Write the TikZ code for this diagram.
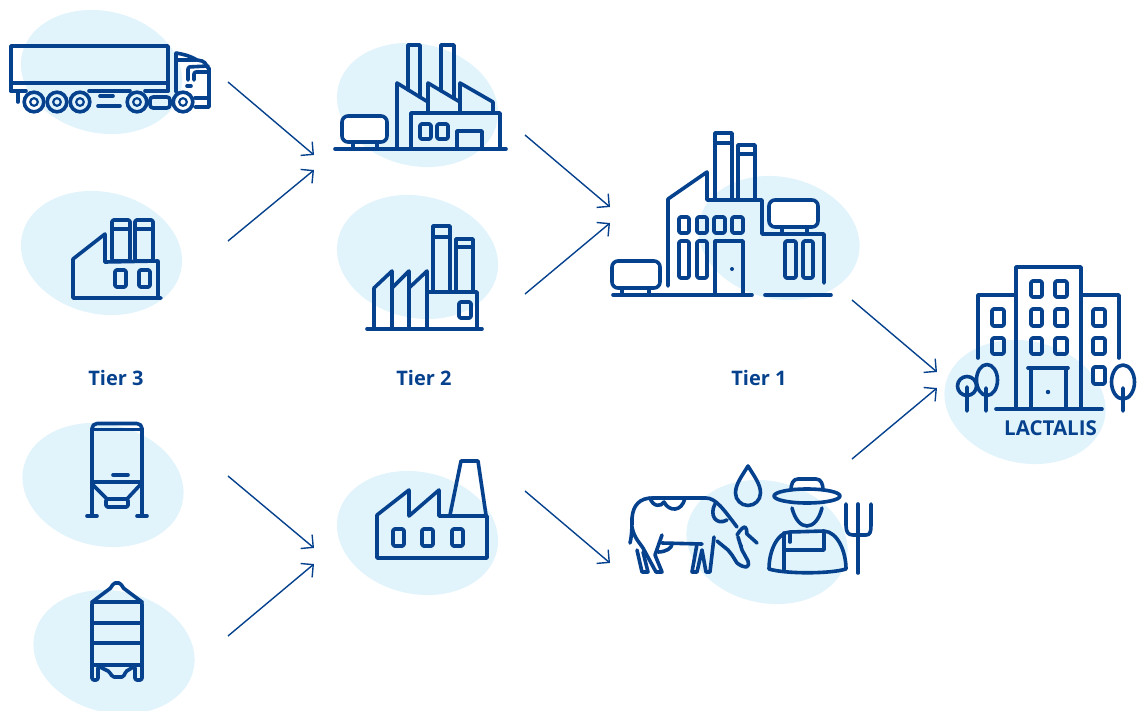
\documentclass[tikz,border=0pt]{standalone}
\usepackage{fontspec}
\setmainfont{Open Sans}
\usetikzlibrary{arrows.meta,shapes.geometric}
\definecolor{ink}{HTML}{06418E}
\definecolor{blobc}{HTML}{E1F3FB}
\tikzset{
  blob/.style={ellipse,fill=blobc,draw=none,minimum width=162.8pt,minimum height=121.8pt,inner sep=0pt,rotate=-12.6},
  icon/.style={draw=ink,line width=3.6pt,line join=round,line cap=round},
  win/.style={icon,rounded corners=1.5pt},
  tank/.style={icon,fill=white,rounded corners=6pt},
  conn/.style={draw=ink,line width=1.4pt,-{Straight Barb[length=9pt,width=18pt,line width=1.4pt]}},
  tier/.style={text=ink,font=\fontsize{20}{22}\selectfont\bfseries,inner sep=0pt},
}
\newcommand{\coww}[4]{\draw[win] (#1,#2) rectangle (#3,#4);}
\begin{document}
\begin{tikzpicture}[x=1pt,y=-1pt]
\useasboundingbox (0,0) rectangle (1144,710);
% blobs
\node[blob] (b1) at (101.5,72) {};
\node[blob] (b2) at (101.5,253) {};
\node[blob] (b3) at (103,485) {};
\node[blob] (b4) at (114,652) {};
\node[blob] (b5) at (417.5,105) {};
\node[blob] (b6) at (417.5,257) {};
\node[blob] (b7) at (417.5,533) {};
\node[blob] (b8) at (779,238) {};
\node[blob] (b9) at (767,542) {};
\node[blob] (b10) at (1025,402) {};
% labels
\node[tier] (t3) at (116,378) {Tier 3};
\node[tier] (t2) at (424,378) {Tier 2};
\node[tier] (t1) at (759,378) {Tier 1};
\node[tier,font=\fontsize{20.5}{22}\selectfont\bfseries] (lac) at (1050.5,428) {LACTALIS};
% connector ends
\coordinate (a1s) at (228,82);  \coordinate (a1e) at (314,155);
\coordinate (a2s) at (228,241); \coordinate (a2e) at (314,170);
\coordinate (a3s) at (525,135); \coordinate (a3e) at (610,207);
\coordinate (a4s) at (525,294); \coordinate (a4e) at (610,223);
\coordinate (a5s) at (852,300); \coordinate (a5e) at (937,372);
\coordinate (a6s) at (852,459); \coordinate (a6e) at (937,388);
\coordinate (a7s) at (228,476); \coordinate (a7e) at (314,548);
\coordinate (a8s) at (228,636); \coordinate (a8e) at (314,564);
\coordinate (a9s) at (525,491); \coordinate (a9e) at (610,563);
\foreach \n in {1,...,9} {\draw[conn] (a\n s) -- (a\n e);}
% truck
\draw[icon] (11,91) -- (11,46) -- (168,46) -- (168,91);
\draw[icon] (11,83) -- (168,83);
\draw[icon] (11,91) -- (26,91) (18,91) -- (18,102);
\draw[icon] (89,91) -- (130,91) (145,91) -- (168,91) (100,96) -- (113,96) (98,106) -- (120,106);
\foreach \x in {34,57,80,137,183} {
  \draw[icon] (\x,102) circle (9.8);
  \draw[icon,line width=2.2pt] (\x,102) circle (3.8);
}
\draw[win,rounded corners=3pt] (150,97) rectangle (170,108);
\draw[icon] (176,92) -- (176,53) to[out=-10,in=150] (197,60) -- (202,61) to[out=0,in=-90] (209,68) -- (209,107) -- (195,107);
\draw[icon] (176,60) -- (196,60) (195,98) -- (209,98) (187,86) -- (191,86);
\draw[icon,rounded corners=2pt] (188,80) -- (188,67) -- (208,66);
\draw[icon,rounded corners=2pt] (194,80) -- (194,72) -- (208,72);
% factory tier 3
\draw[icon] (105,262) -- (105,234) -- (73,259) -- (73,298) -- (161,298);
\draw[icon] (105,262) -- (158,261) -- (158,298);
\coww{112}{220}{130}{261}
\coww{135}{220}{153}{261}
\draw[icon] (112,229) -- (130,229) (135,229) -- (153,229);
\coww{115}{270}{126}{287}
\coww{139}{270}{150}{287}
% silo 1
\draw[icon,rounded corners=5pt] (92,516) -- (92,423.5) -- (142,423.5) -- (142,516);
\draw[icon] (92,429.5) -- (142,429.5) (92,482) -- (142,482) (113,475) -- (128,475);
\draw[icon] (87,516) -- (97,516) (137,516) -- (147,516);
\draw[icon] (93,485) -- (107,499) -- (127,499) -- (140,485);
\draw[win] (106,499) rectangle (128,507);
% silo 2
\draw[icon,rounded corners=2pt] (92,680) -- (92,602) -- (112,587) -- (113,583) -- (121,583) -- (122,587) -- (142,602) -- (142,680) -- (135,680) -- (135,666) -- (125,672) -- (124,677) -- (112,677) -- (110,672) -- (98,666) -- (98,680) -- cycle;
\draw[icon] (92,602) -- (142,602) (92,623) -- (142,623) (92,643) -- (142,643) (92,665) -- (142,665);
% factory tier 2 upper
\draw[icon] (335,149) -- (506,149);
\draw[tank] (342,116) rectangle (387,142);
\draw[icon] (353,142) -- (353,149) (377,142) -- (377,149);
\draw[icon] (397,149) -- (397,83) -- (428,102) (428,113) -- (428,83) -- (460,102) (460,113) -- (460,83) -- (493,102) -- (493,113);
\draw[icon] (411,149) -- (411,113) -- (500,113) -- (500,149);
\draw[icon] (408,89.7) -- (408,45) -- (420,45) -- (420,97);
\draw[icon] (441,90.7) -- (441,45) -- (454,45) -- (454,98.4);
\coww{420}{124}{431}{139}
\coww{437}{124}{448}{139}
\draw[icon] (457,149) -- (457,131) -- (482,131) -- (482,149);
% factory tier 2 middle
\draw[icon] (367,329) -- (482,329);
\draw[icon] (374,329) -- (374,288) -- (392,271) -- (392,329);
\draw[icon] (392,288) -- (409,271) -- (409,329);
\draw[icon] (409,288) -- (427,271) -- (427,329);
\draw[icon] (427,292) -- (477,292) -- (477,329);
\draw[icon] (433,292) -- (433,226) -- (450,226) -- (450,292) (433,237) -- (450,237);
\draw[icon] (456,292) -- (456,239) -- (473,239) -- (473,292) (456,247) -- (473,247);
\coww{459}{302}{471}{318}
% factory tier 2 lower
\draw[icon] (377,515) -- (377,558) -- (487,558) -- (487,516) -- (439,516) -- (439,490) -- (409,516) -- (409,490) -- cycle;
\draw[icon] (450,515) -- (461,461) -- (478,461) -- (486,515);
\coww{393}{529}{404}{546}
\coww{422}{529}{433}{546}
\coww{452}{529}{463}{546}
% factory tier 1
\draw[icon] (613,295) -- (752,295) (765,295) -- (831,295);
\draw[tank] (612,261) rectangle (660,288);
\draw[icon] (622,288) -- (622,295) (649,288) -- (649,295);
\draw[icon] (668,286) -- (668,199) -- (707,172) -- (707,200) -- (762,200) -- (762,234) -- (824,234) -- (824,283);
\draw[icon] (715,200) -- (715,133) -- (732,133) -- (732,200) (715,143) -- (732,143);
\draw[icon] (738,200) -- (738,145) -- (755,145) -- (755,200) (738,154) -- (755,154);
\draw[tank] (769,200) rectangle (818,227);
\draw[icon] (782,227) -- (782,234) (807,227) -- (807,234);
\coww{679}{217}{689}{233}
\coww{697}{217}{707}{233}
\coww{714}{217}{725}{233}
\coww{732}{217}{743}{233}
\coww{679}{241}{689}{278}
\coww{697}{241}{707}{278}
\coww{785}{241}{796}{278}
\coww{803}{241}{813}{278}
\draw[icon] (715,295) -- (715,241) -- (743,241) -- (743,295);
\fill[ink] (732,269) circle (2);
% cow
\draw[icon] (630,543) .. controls (632,535) and (632,525) .. (632,518)
  .. controls (633,505) and (640,498) .. (652,498) -- (706,498)
  .. controls (716,498) and (724,510) .. (737,527);
\draw[icon] (650,498) .. controls (653,507) and (661,507) .. (664,502)
  .. controls (669,512) and (682,512) .. (685,498);
\draw[icon] (715,504) .. controls (709,515) and (716,526) .. (727,520);
\draw[icon] (632,527) .. controls (634,538) and (640,543) .. (643,548)
  -- (656,572) -- (662,572) -- (655,555) -- (662,535);
\draw[icon] (637,550) -- (642,572) -- (648,572) -- (643,552);
\draw[icon] (662,543) -- (702,544);
\draw[icon] (658,552) .. controls (666,552) and (672,548) .. (672,544);
\draw[icon] (697,544) -- (692,572) -- (697,572) -- (702,550) -- (706,572) -- (710,572) -- (714,537);
\draw[icon] (717,541) -- (728,550) -- (732,555) -- (737,563)
  .. controls (741,566) and (744,567) .. (746,567)
  .. controls (749,566) and (749,563) .. (748,561)
  -- (742,550) -- (738,537);
\draw[icon] (737,535) .. controls (740,530) and (743,527) .. (745,527) .. controls (748,530) and (746,534) .. (747,534) -- (757,543);
\fill[ink] (741,546) circle (2);
% drop
\draw[icon] (748,466) .. controls (742,476) and (735.5,484) .. (735.5,493)
  arc[start angle=180,end angle=360,x radius=12.5,y radius=-12.5]
  .. controls (760.5,484) and (754,476) .. cycle;
% farmer
\draw[icon] (807,496) ellipse[x radius=33,y radius=7];
\draw[icon] (791,490) .. controls (791,484) and (793,479) .. (798,479) .. controls (803,479) and (811,479) .. (816,479) .. controls (821,479) and (823,484) .. (823,490);
\draw[icon] (792,508) .. controls (795,520) and (801,526) .. (807,526) .. controls (813,526) and (819,520) .. (822,508);
\draw[icon] (769,569) .. controls (769,550) and (778,532) .. (790,532) -- (824,531) .. controls (838,532) and (846,552) .. (846,569)
  .. controls (830,574) and (785,574) .. (769,569) -- cycle;
\draw[icon] (784,533) -- (784,570) (824,533) -- (824,550) -- (784,550) (790,533) -- (790,542);
% pitchfork
\draw[icon] (846,504) -- (846,525) .. controls (846,532) and (848,535) .. (853,535) -- (866,535) .. controls (870,535) and (871,532) .. (871,525) -- (871,504);
\draw[icon] (858,504) -- (858,573);
% Lactalis building
\draw[icon] (1016,409) -- (1016,267) -- (1081,267) -- (1081,409);
\draw[icon] (978,358) -- (978,295) -- (1016,295) (1081,295) -- (1119,295) -- (1119,358);
\draw[icon] (996,409) -- (1102,409);
\foreach \y/\yy in {281/297,309/326,338/354} {
  \coww{1031}{\y}{1042}{\yy}
  \coww{1055}{\y}{1067}{\yy}
}
\foreach \y/\yy in {309/326,338/354} {
  \coww{992}{\y}{1004}{\yy}
  \coww{1093}{\y}{1105}{\yy}
}
\coww{1093}{367}{1105}{384}
\draw[icon] (1028,368) -- (1068,368) (1031,368) -- (1031,409) (1066,368) -- (1066,409);
\fill[ink] (1048,392) circle (2.2);
\draw[icon] (967,386) circle (9.5) (967,387) -- (967,411);
\draw[icon] (987,380) ellipse[x radius=10.5,y radius=15.5] (986,388) -- (986,411);
\draw[icon] (1123,382) ellipse[x radius=11.5,y radius=17] (1123,388) -- (1123,411);
\end{tikzpicture}
\end{document}
